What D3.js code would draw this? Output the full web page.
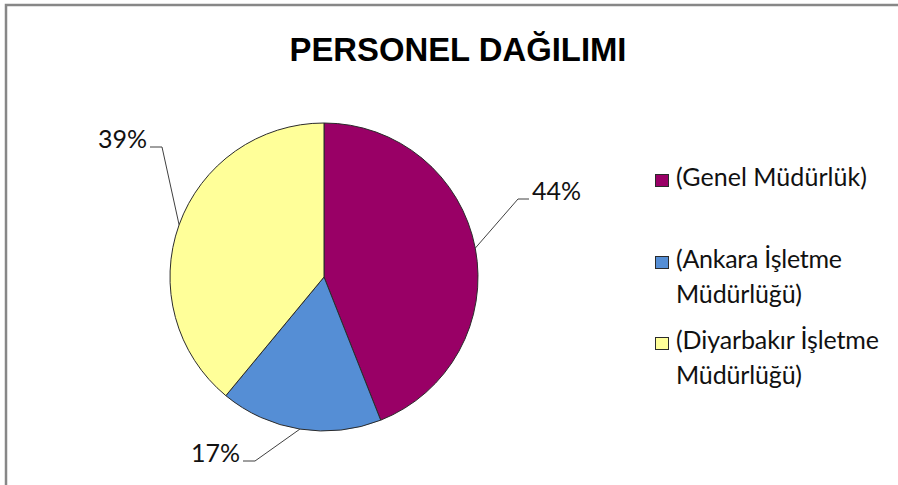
<!DOCTYPE html>
<html>
<head>
<meta charset="utf-8">
<script src="https://cdn.jsdelivr.net/npm/d3@7"></script>
<style>
  body { margin: 0; background: #fff; }
  svg { display: block; }
</style>
</head>
<body>
<div id="chart"></div>
<script>
// data
var categories = ["(Genel Müdürlük)", "(Ankara İşletme Müdürlüğü)", "(Diyarbakır İşletme Müdürlüğü)"];
var values = [44, 17, 39];
var colors = ["#990066", "#558ed5", "#ffff99"];
var legendLines = [["(Genel Müdürlük)"], ["(Ankara İşletme", "Müdürlüğü)"], ["(Diyarbakır İşletme", "Müdürlüğü)"]];
var title = "PERSONEL DAĞILIMI";

var width = 898, height = 485;
var cx = 324, cy = 277, radius = 154;

// where each leader line bends (label anchor)
var labelElbows = [[518, 199], [255, 461], [162, 147]];

var svg = d3.select("#chart").append("svg")
    .attr("width", width)
    .attr("height", height);

svg.append("rect")
    .attr("x", 6).attr("y", 5)
    .attr("width", width + 10).attr("height", height + 10)
    .attr("fill", "#fff")
    .attr("stroke", "#878787")
    .attr("stroke-width", 2.5);

svg.append("text")
    .attr("x", 458).attr("y", 61)
    .attr("text-anchor", "middle")
    .attr("font-family", "Liberation Sans, Arial, sans-serif")
    .attr("font-weight", "bold")
    .attr("font-size", 34)
    .attr("textLength", 337)
    .attr("lengthAdjust", "spacingAndGlyphs")
    .text(title);

var pie = d3.pie().sort(null).value(d => d);
var arcs = pie(values);
var arc = d3.arc().innerRadius(0).outerRadius(radius);

var g = svg.append("g").attr("transform", `translate(${cx},${cy})`);

g.selectAll("path")
    .data(arcs)
    .enter()
    .append("path")
    .attr("d", arc)
    .attr("fill", (d, i) => colors[i])
    .attr("stroke", "#2b2b2b")
    .attr("stroke-width", 1);

// leader lines + labels
arcs.forEach(function (d, i) {
    var mid = (d.startAngle + d.endAngle) / 2;
    var px = cx + radius * Math.sin(mid);
    var py = cy - radius * Math.cos(mid);
    var e = labelElbows[i];
    var right = Math.sin(mid) > 0;
    var ex = right ? e[0] + 11 : e[0] - 12;
    svg.append("polyline")
        .attr("points", `${px},${py} ${e[0]},${e[1]} ${ex},${e[1]}`)
        .attr("fill", "none")
        .attr("stroke", "#404040")
        .attr("stroke-width", 1);
    svg.append("text")
        .attr("x", right ? ex + 3 : ex - 3)
        .attr("y", e[1] + 1)
        .attr("text-anchor", right ? "start" : "end")
        .attr("font-family", "Lato, sans-serif")
        .attr("font-size", 25)
        .attr("fill", "#111")
        .text(d.data + "%");
});

// legend
var legendX = 655, legendY = [186, 268, 349], lineH = 35;
var lineWidths = [[191], [166, 126], [203, 126]];
var legend = svg.append("g");
legendLines.forEach(function (lines, i) {
    legend.append("rect")
        .attr("x", legendX + 0.5).attr("y", legendY[i] - 11.5)
        .attr("width", 13).attr("height", 12)
        .attr("fill", colors[i])
        .attr("stroke", "#2b2b2b")
        .attr("stroke-width", 1);
    lines.forEach(function (l, j) {
        legend.append("text")
            .attr("x", legendX + 21)
            .attr("y", legendY[i] + j * lineH)
            .attr("font-family", "Lato, sans-serif")
            .attr("font-size", 25)
            .attr("fill", "#111")
            .attr("textLength", lineWidths[i][j])
            .attr("lengthAdjust", "spacing")
            .text(l);
    });
});
</script>
</body>
</html>
